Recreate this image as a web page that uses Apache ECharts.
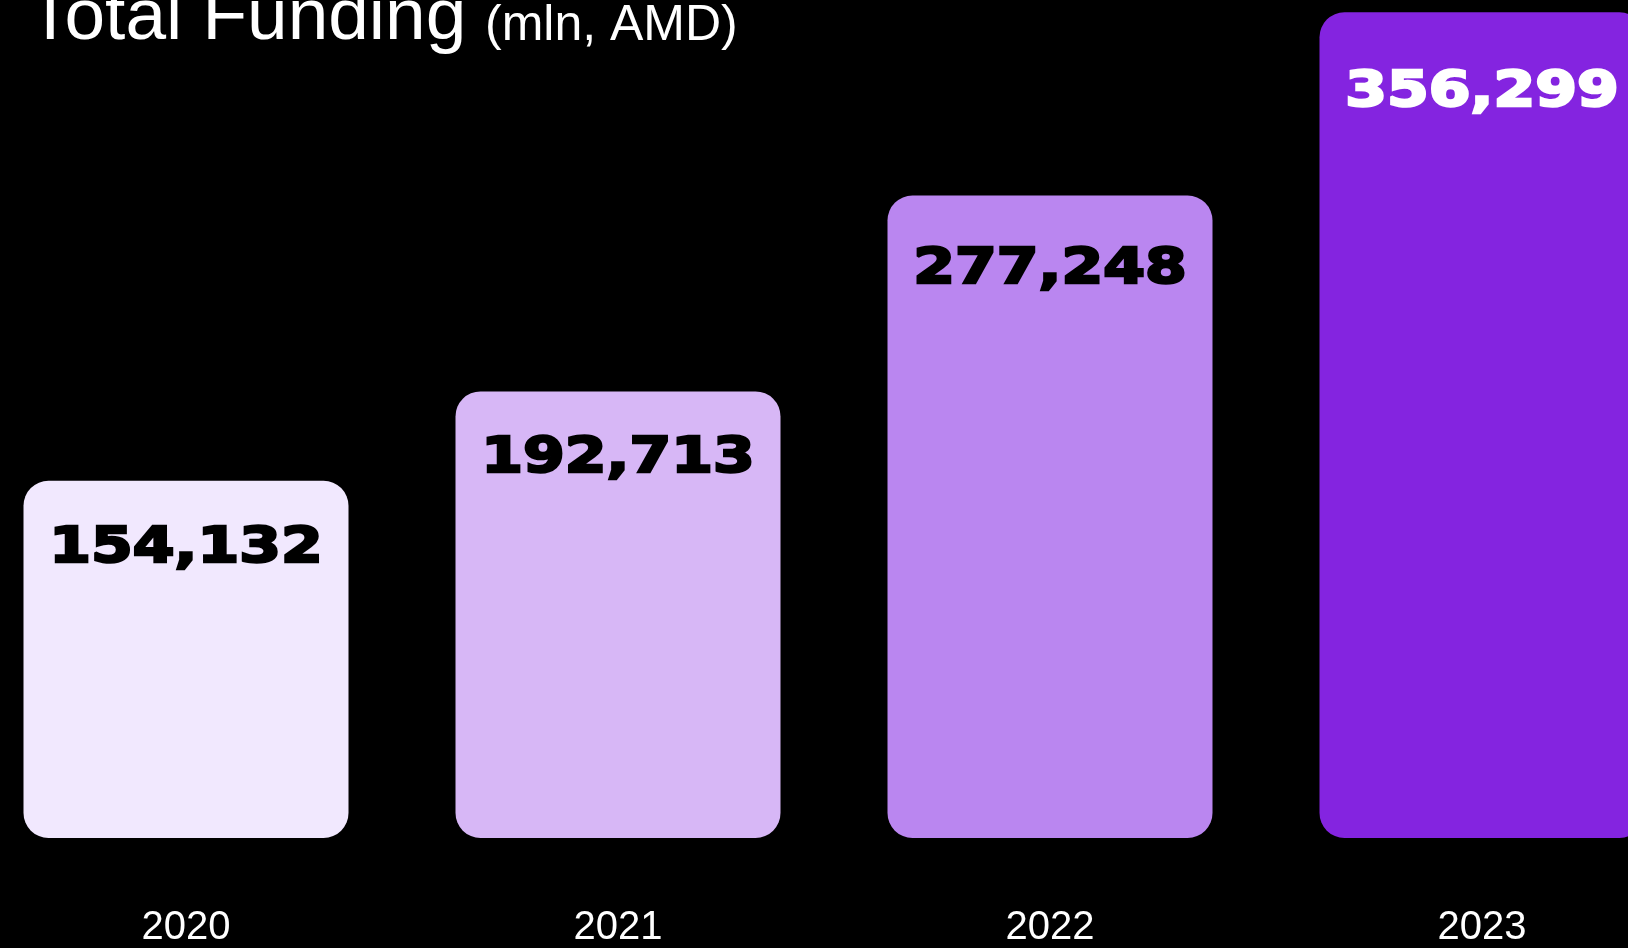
<!DOCTYPE html>
<html>
<head>
<meta charset="utf-8">
<title>Total Funding</title>
<script src="https://cdn.jsdelivr.net/npm/echarts@6/dist/echarts.min.js"></script>
<style>
  html, body { margin: 0; padding: 0; background: #000; overflow: hidden; }
  /* the plot runs slightly past both page edges, so the canvas is wider than the page */
  #chart { position: absolute; left: -30px; top: 0; width: 1728px; height: 100vh; }
</style>
</head>
<body>
<div id="chart"></div>
<script>
// Data
const years = ['2020', '2021', '2022', '2023'];
const funding = [154132, 192713, 277248, 356299];

// Styling per bar
const barColors = ['#F1E8FE', '#D7B7F6', '#BA86F0', '#8424E0'];
const labelColors = ['#000000', '#000000', '#000000', '#FFFFFF'];
const labelDrop = [68, 68, 75, 81];

const fmt = v => v.toLocaleString('en-US');
const shift = 30; // canvas offset relative to the page

const chart = echarts.init(document.getElementById('chart'), null, { renderer: 'canvas' });

chart.setOption({
  backgroundColor: '#000000',
  animation: false,
  graphic: [
    {
      type: 'text', x: 28 + shift, y: 19,
      style: {
        text: 'Total Funding', fill: '#FFFFFF',
        font: '73px "Liberation Sans", Arial, sans-serif',
        verticalAlign: 'middle'
      }
    },
    {
      type: 'text', x: 485 + shift, y: 26,
      style: {
        text: '(mln, AMD)', fill: '#FFFFFF',
        font: '50px "Liberation Sans", Arial, sans-serif',
        verticalAlign: 'middle'
      }
    }
  ],
  grid: { left: 0, right: 0, top: 0, bottom: 100, containLabel: false },
  xAxis: {
    type: 'category',
    data: years,
    axisLine: { show: false },
    axisTick: { show: false },
    axisLabel: {
      color: '#FFFFFF',
      fontFamily: '"Liberation Sans", Arial, sans-serif',
      fontSize: 40,
      margin: 70
    }
  },
  yAxis: {
    type: 'value',
    min: 0,
    max: 361600,
    show: false,
    splitLine: { show: false }
  },
  series: [
    {
      type: 'bar',
      data: funding.map((v, i) => ({ value: v, itemStyle: { color: barColors[i] } })),
      barWidth: 325,
      itemStyle: { borderRadius: 25 },
      silent: true
    },
    {
      // value labels, widened horizontally to suit the extended display face
      type: 'custom',
      data: funding.map((v, i) => [i, v]),
      silent: true,
      z: 10,
      renderItem: function (params, api) {
        const i = api.value(0);
        const p = api.coord([i, api.value(1)]);
        return {
          type: 'text',
          x: p[0],
          y: p[1] + labelDrop[i],
          scaleX: 1.2,
          style: {
            text: fmt(api.value(1)),
            fill: labelColors[i],
            stroke: labelColors[i],
            lineWidth: 2.5,
            font: 'bold 50px "DejaVu Sans", sans-serif',
            align: 'center',
            verticalAlign: 'middle'
          }
        };
      }
    }
  ]
});
</script>
</body>
</html>
